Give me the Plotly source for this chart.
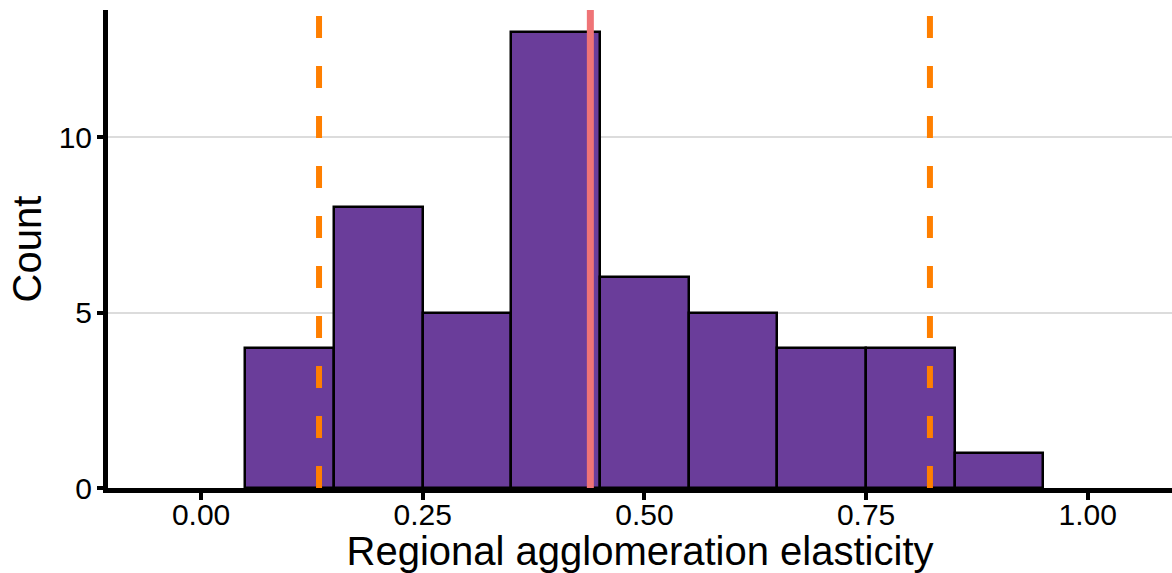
import plotly.graph_objects as go

# Histogram of regional agglomeration elasticities (bin width 0.1)
bin_centers = [0.1, 0.2, 0.3, 0.4, 0.5, 0.6, 0.7, 0.8, 0.9]
counts = [4, 8, 5, 13, 6, 5, 4, 4, 1]
bin_width = 0.1

# Reference lines: median and 5th / 95th percentiles
median_value = 0.439
lower_bound = 0.133
upper_bound = 0.822

x_ticks = [0.0, 0.25, 0.5, 0.75, 1.0]
x_tick_labels = ["0.00", "0.25", "0.50", "0.75", "1.00"]
y_ticks = [0, 5, 10]

fig = go.Figure()
fig.add_trace(go.Bar(
    x=bin_centers,
    y=counts,
    width=bin_width,
    marker=dict(color="#6a3d9a", line=dict(color="black", width=2.5)),
    showlegend=False,
))

for xv in (lower_bound, upper_bound):
    fig.add_shape(type="line", xref="x", yref="paper", x0=xv, x1=xv, y0=0, y1=1,
                  line=dict(color="#ff7f00", width=6, dash="22px,28px"), layer="above")
fig.add_shape(type="line", xref="x", yref="paper", x0=median_value, x1=median_value,
              y0=0, y1=1, line=dict(color="#ef7477", width=7), layer="above")

font_family = "Liberation Sans, Arial, sans-serif"
fig.update_layout(
    width=1172, height=573,
    margin=dict(l=108, r=0, t=10, b=85),
    plot_bgcolor="white", paper_bgcolor="white",
    font=dict(family=font_family, color="black"),
    bargap=0,
    xaxis=dict(
        range=[-0.105, 1.095],
        tickvals=x_ticks, ticktext=x_tick_labels,
        tickfont=dict(size=30, color="black"),
        ticks="outside", ticklen=7, tickwidth=4, tickcolor="black",
        ticklabelstandoff=-11,
        showline=True, linewidth=5, linecolor="black",
        showgrid=False, zeroline=False,
        title=dict(text="Regional agglomeration elasticity", font=dict(size=40), standoff=12),
    ),
    yaxis=dict(
        range=[0, 13.62],
        tickvals=y_ticks,
        tickfont=dict(size=30, color="black"),
        ticks="outside", ticklen=6, tickwidth=4, tickcolor="black",
        ticklabelstandoff=-1,
        showline=True, linewidth=5, linecolor="black",
        showgrid=True, gridcolor="#dcdcdc", gridwidth=2,
        zeroline=False,
        title=dict(text="Count", font=dict(size=40), standoff=6),
    ),
)

fig.write_html("out.html")
